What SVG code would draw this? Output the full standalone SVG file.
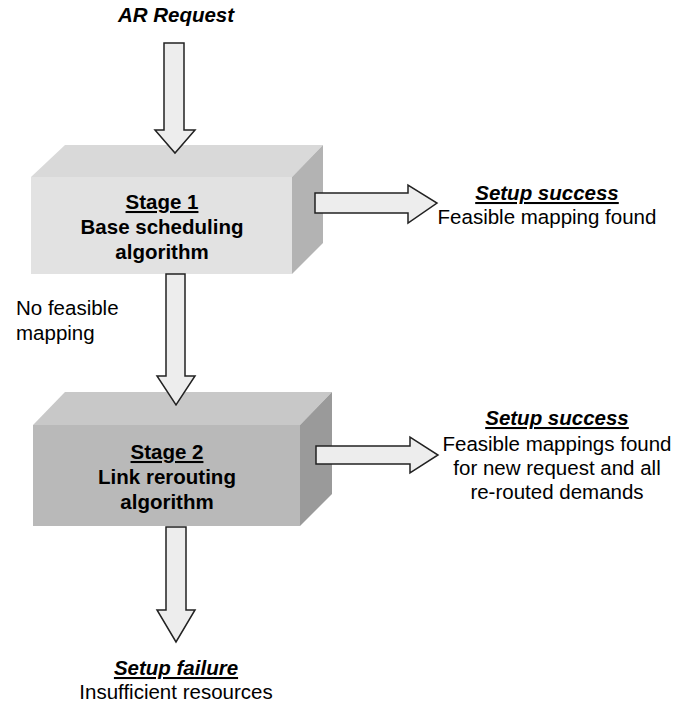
<svg xmlns="http://www.w3.org/2000/svg" width="695" height="709" viewBox="0 0 695 709">
<style>
text{font-family:"Liberation Sans",Arial,sans-serif;font-size:20.5px;fill:#000}
.b{font-weight:bold}
.bi{font-weight:bold;font-style:italic}
.u{text-decoration:underline}
.arr{fill:#ededed;stroke:#222;stroke-width:1.5;stroke-linejoin:miter}
</style>
<rect width="695" height="709" fill="#fff"/>
<g id="ar-request">
<text class="bi" x="176" y="22" text-anchor="middle">AR Request</text>
</g>
<g id="stage1">
<polygon points="31,177 65,145 323,145 292,177" fill="#d9d9d9"/>
<polygon points="292,177 323,145 323,243 292,274" fill="#b3b3b3"/>
<rect x="31" y="177" width="261" height="97" fill="#e2e2e2"/>
<text class="b u" x="162" y="209" text-anchor="middle">Stage 1</text>
<text class="b" x="162" y="234" text-anchor="middle">Base scheduling</text>
<text class="b" x="162" y="259" text-anchor="middle">algorithm</text>
</g>
<g id="no-feasible">
<text x="16" y="315">No feasible</text>
<text x="16" y="340">mapping</text>
</g>
<g id="stage2">
<polygon points="33,425 65,392 332,392 300,425" fill="#c8c8c8"/>
<polygon points="300,425 332,392 332,494 300,526" fill="#9a9a9a"/>
<rect x="33" y="425" width="267" height="101" fill="#b9b9b9"/>
<text class="b u" x="167" y="459" text-anchor="middle">Stage 2</text>
<text class="b" x="167" y="484" text-anchor="middle">Link rerouting</text>
<text class="b" x="167" y="509" text-anchor="middle">algorithm</text>
</g>
<g id="success1">
<text class="bi u" x="547" y="200" text-anchor="middle">Setup success</text>
<text x="547" y="224" text-anchor="middle">Feasible mapping found</text>
</g>
<g id="success2">
<text class="bi u" x="557" y="425" text-anchor="middle">Setup success</text>
<text x="557" y="451" text-anchor="middle">Feasible mappings found</text>
<text x="557" y="475" text-anchor="middle">for new request and all</text>
<text x="557" y="499" text-anchor="middle">re-routed demands</text>
</g>
<g id="failure">
<text class="bi u" x="176" y="675" text-anchor="middle">Setup failure</text>
<text x="176" y="699" text-anchor="middle">Insufficient resources</text>
</g>
<g id="connectors">
<polygon class="arr" points="164,43 184,43 184,130 195,130 175,153 155,130 164,130"/>
<polygon class="arr" points="166,274 185,274 185,376 195,376 176,405 157,376 166,376"/>
<polygon class="arr" points="166,527 186,527 186,610 195,610 176,642 157,610 166,610"/>
<polygon class="arr" points="315,193 408,193 408,185 437,203 408,223 408,213 315,213"/>
<polygon class="arr" points="316,446 410,446 410,437 438,455 410,473 410,464 316,464"/>
</g>
</svg>
